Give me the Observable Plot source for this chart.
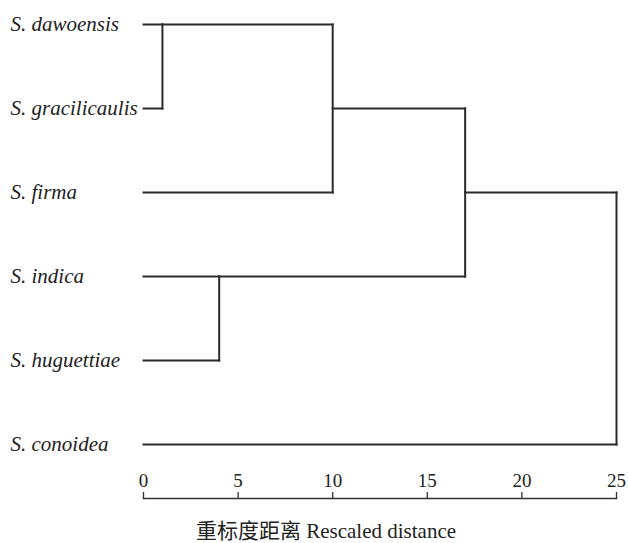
<!DOCTYPE html>
<html>
<head>
<meta charset="utf-8">
<script src="https://cdn.jsdelivr.net/npm/d3@7"></script>
<script src="https://cdn.jsdelivr.net/npm/@observablehq/plot@0.6"></script>
<style>
  html, body { margin: 0; padding: 0; background: #fff; }
  #title { width: 628px; text-align: center; font-family: "Liberation Serif", "Noto Sans CJK SC", serif; font-size: 21px; line-height: 20px; color: #222; padding-left: 24px; padding-top: 11px; box-sizing: border-box; white-space: nowrap; }
</style>
</head>
<body>
<div id="chart"></div>
<div id="title">重标度距离 Rescaled distance</div>
<script>
const leaves = ["S. dawoensis", "S. gracilicaulis", "S. firma", "S. indica", "S. huguettiae", "S. conoidea"];
// merges: node ids 0..5 are leaves, merge k creates node 6+k
const mergeLeft = [0, 6, 3, 7, 9];
const mergeRight = [1, 2, 4, 8, 5];
const mergeHeight = [1, 10, 4, 17, 25];
const ticks = [0, 5, 10, 15, 20, 25];

const row = leaves.map((_, i) => i);
const hgt = leaves.map(() => 0);
const segs = [];
mergeLeft.forEach((a, k) => {
  const b = mergeRight[k], h = mergeHeight[k];
  segs.push({x1: hgt[a], x2: h, y1: row[a], y2: row[a]});
  segs.push({x1: hgt[b], x2: h, y1: row[b], y2: row[b]});
  segs.push({x1: h, x2: h, y1: row[a], y2: row[b]});
  row.push(Math.floor((row[a] + row[b]) / 2));
  hgt.push(h);
});
const leafData = leaves.map((name, i) => ({name, row: i}));
const SERIF = "'Liberation Serif', 'Times New Roman', serif";

const chart = Plot.plot({
  width: 628,
  height: 510,
  marginLeft: 143,
  marginRight: 12,
  marginTop: 498,
  marginBottom: 0,
  style: {fontFamily: SERIF, color: "#222", background: "#fff"},
  x: {domain: [0, 25], range: [143, 616]},
  y: {domain: [0, 5], range: [24, 444], axis: null},
  marks: [
    Plot.link(segs, {x1: "x1", y1: "y1", x2: "x2", y2: "y2", stroke: "#2b2b2b", strokeWidth: 2, strokeLinecap: "square"}),
    Plot.text(leafData, {y: "row", frameAnchor: "left", text: "name", textAnchor: "start", dx: -133, fontSize: 21, fontStyle: "italic", fontFamily: SERIF, fill: "#222"}),
    Plot.axisX({anchor: "top", ticks: ticks, tickSize: 7, tickPadding: 5, fontSize: 19, fontFamily: SERIF, label: null, stroke: "#333", strokeWidth: 1.3, fill: "#222"}),
    Plot.frame({anchor: "top", stroke: "#333", strokeWidth: 1.5})
  ]
});
document.getElementById("chart").appendChild(chart);
</script>
</body>
</html>
